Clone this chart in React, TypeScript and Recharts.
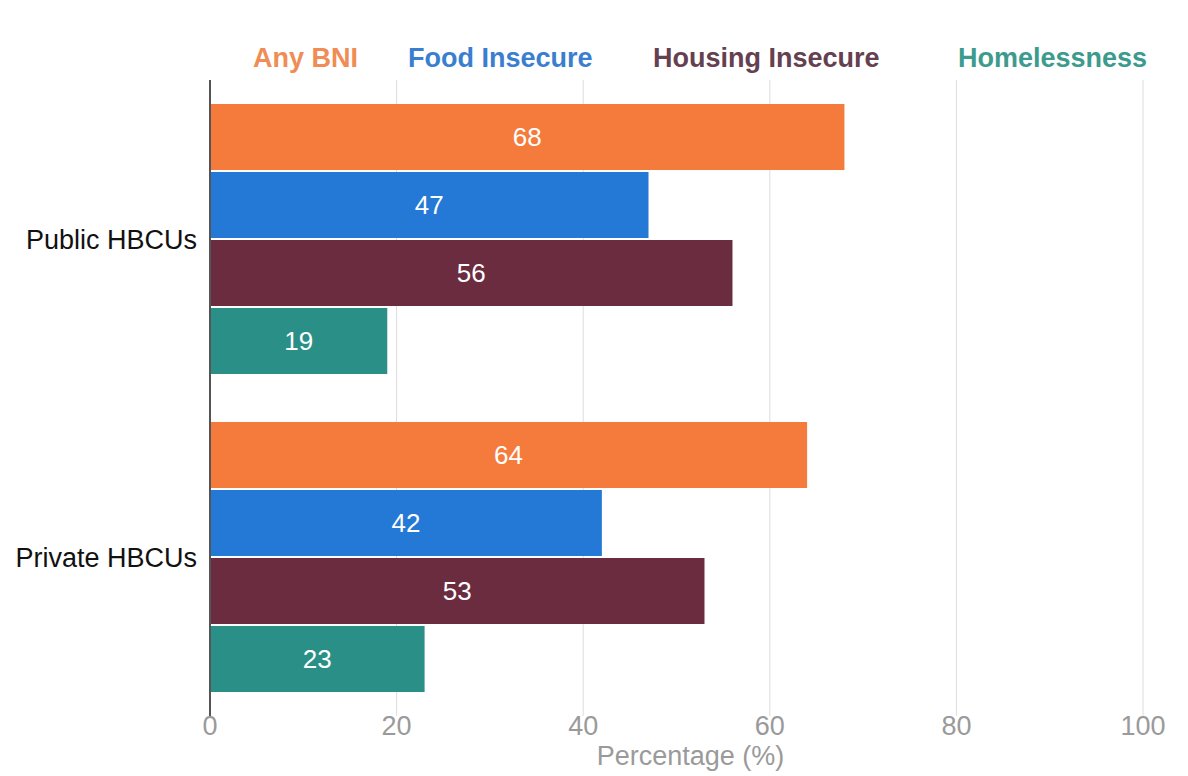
import { BarChart, Bar, XAxis, YAxis, CartesianGrid, Legend, LabelList } from "recharts"

const categories = ["Public HBCUs", "Private HBCUs"]
const anyBni = [68, 64]
const foodInsecure = [47, 42]
const housingInsecure = [56, 53]
const homelessness = [19, 23]
const xTicks = [0, 20, 40, 60, 80, 100]

const series = [
  { key: "anyBni", name: "Any BNI", color: "#F47B3B", legend: "#F08C55", x: 253 },
  { key: "food", name: "Food Insecure", color: "#2478D6", legend: "#3A7FCF", x: 408 },
  { key: "housing", name: "Housing Insecure", color: "#6B2C40", legend: "#654050", x: 653 },
  { key: "homeless", name: "Homelessness", color: "#2A8F86", legend: "#3D9B8E", x: 958 },
]

const data = categories.map((c, i) => ({
  category: c,
  anyBni: anyBni[i],
  food: foodInsecure[i],
  housing: housingInsecure[i],
  homeless: homelessness[i],
}))

const font = "'Liberation Sans', Arial, Helvetica, sans-serif"

function LegendRow() {
  return (
    <div style={{ position: "relative", width: 1188, height: 40, fontFamily: font }}>
      {series.map((s) => (
        <span
          key={s.key}
          style={{
            position: "absolute",
            left: s.x,
            top: 0,
            lineHeight: "40px",
            fontSize: 27,
            fontWeight: 700,
            color: s.legend,
            whiteSpace: "nowrap",
          }}
        >
          {s.name}
        </span>
      ))}
    </div>
  )
}

export default function App() {
  return (
    <div style={{ width: 1188, height: 776, background: "#fff", fontFamily: font }}>
      <style>{`body{margin:0}`}</style>
      <BarChart
        width={1188}
        height={776}
        data={data}
        layout="vertical"
        margin={{ top: 40, right: 45, left: 0, bottom: 0 }}
        barCategoryGap={24}
        barGap={2}
      >
        <CartesianGrid horizontal={false} stroke="#dddddd" />
        <Legend
          verticalAlign="top"
          height={40}
          wrapperStyle={{ top: 38, left: 0, width: 1188 }}
          content={() => <LegendRow />}
        />
        <XAxis
          type="number"
          domain={[0, 100]}
          ticks={xTicks}
          height={60}
          axisLine={false}
          tickLine={false}
          tickSize={0}
          tickMargin={0}
          tick={{ fill: "#9a9a9a", fontSize: 27, fontFamily: font }}
          label={{
            value: "Percentage (%)",
            position: "insideBottom",
            offset: 11,
            dx: 14,
            fill: "#9a9a9a",
            fontSize: 27,
            fontFamily: font,
          }}
        />
        <YAxis
          type="category"
          dataKey="category"
          width={210}
          tickLine={false}
          tickSize={0}
          tickMargin={13}
          axisLine={{ stroke: "#555", strokeWidth: 2 }}
          tick={{ fill: "#111", fontSize: 27, fontFamily: font }}
        />
        {series.map((s) => (
          <Bar key={s.key} dataKey={s.key} name={s.name} fill={s.color} isAnimationActive={false}>
            <LabelList
              dataKey={s.key}
              position="center"
              fill="#fff"
              fontSize={26}
              fontFamily={font}
            />
          </Bar>
        ))}
      </BarChart>
    </div>
  )
}
